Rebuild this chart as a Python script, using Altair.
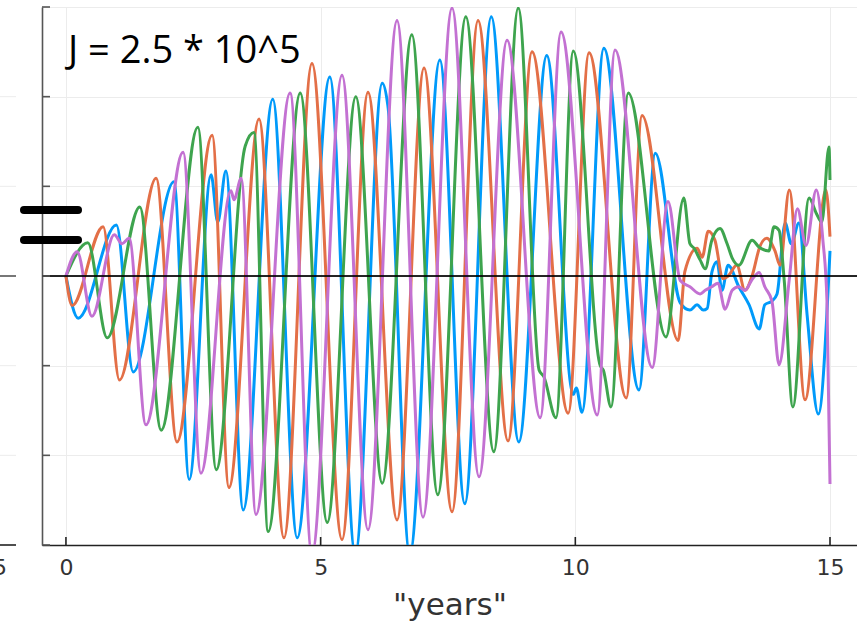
import altair as alt
import pandas as pd

# (year, value) key points, per series
blue = [(0, 0), (0.24, -0.47), (0.99, 0.57), (1.32, -1.07), (2.12, 1.05), (2.42, -2.27),
        (2.85, 1.13), (2.98, 0.6), (3.14, 1.17), (3.48, -2.61), (4.06, 1.97), (4.54, -2.92),
        (5.18, 2.22), (5.68, -3.1), (6.21, 2.15), (6.32, 1.9), (6.75, -3.1), (7.34, 2.41),
        (7.83, -2.54), (8.35, 2.89), (8.89, -1.85), (9.44, 2.46), (9.96, -1.32), (10.02, -1.25),
        (10.13, -1.52), (10.56, 2.54), (11.25, -1.27), (11.57, 1.37), (12.06, -0.3),
        (12.25, -0.38), (12.39, -0.32), (12.51, -0.38), (12.59, -0.36), (12.68, 0.04),
        (12.78, 0.16), (12.88, -0.16), (13.0, 0.12), (13.21, -0.12), (13.41, -0.32),
        (13.61, -0.59), (13.72, -0.32), (13.86, -0.28), (13.96, -0.2), (14.12, 0.59),
        (14.24, 0.36), (14.39, 0.59), (14.55, -0.43), (14.77, -1.54), (15.0, 0.28)]

orange = [(0, 0), (0.12, -0.33), (0.73, 0.55), (1.05, -1.16), (1.77, 1.09), (2.18, -1.85),
          (2.87, 1.57), (3.20, -2.36), (3.79, 1.75), (4.28, -2.92), (4.83, 2.37), (5.42, -2.94),
          (5.93, 2.05), (6.50, -2.72), (7.03, 2.32), (7.58, -2.63), (8.09, 2.85), (8.68, -1.84),
          (9.15, 2.50), (9.86, -1.53), (10.27, 2.49), (11.00, -1.36), (11.31, 1.79),
          (12.02, -0.72), (12.15, 0.05), (12.39, 0.31), (12.49, 0.21), (12.61, 0.50),
          (12.74, 0.40), (12.90, -0.03), (13.00, 0.0), (13.17, 0.12), (13.33, -0.16),
          (13.47, 0.0), (13.63, 0.34), (13.76, 0.42), (13.92, 0.28), (14.02, 0.12),
          (14.20, 0.96), (14.51, -1.38), (14.92, 0.96), (15.0, 0.44)]

green = [(0, 0), (0.43, 0.37), (0.81, -0.69), (1.45, 0.77), (1.87, -1.72), (2.59, 1.66),
         (2.95, -2.16), (3.52, 1.45), (3.69, 1.60), (3.97, -2.85), (4.60, 2.04), (5.13, -2.75),
         (5.69, 2.00), (6.21, -2.31), (6.79, 2.69), (7.30, -2.44), (7.85, 2.89), (8.40, -1.96),
         (8.88, 2.99), (9.29, -1.05), (9.38, -1.12), (9.62, -1.58), (9.96, 2.51), (10.49, -1.0),
         (10.55, -1.05), (10.70, -1.46), (11.04, 2.04), (11.78, -0.68), (12.13, 0.87),
         (12.25, 0.36), (12.33, 0.31), (12.45, 0.18), (12.55, 0.08), (12.68, 0.40),
         (12.84, 0.53), (12.98, 0.36), (13.08, 0.20), (13.21, 0.12), (13.47, 0.40),
         (13.61, 0.32), (13.80, 0.28), (13.90, 0.55), (14.00, 0.51), (14.10, -0.04),
         (14.27, -1.46), (14.59, 0.87), (14.73, 0.70), (14.84, 0.60), (14.98, 1.44), (15.0, 1.07)]

purple = [(0, 0), (0.22, 0.27), (0.51, -0.45), (0.95, 0.46), (1.10, 0.36), (1.24, 0.42),
          (1.57, -1.66), (2.30, 1.38), (2.65, -2.20), (3.24, 0.95), (3.30, 0.85), (3.44, 1.09),
          (3.73, -2.66), (4.40, 2.04), (4.83, -3.10), (5.42, 2.24), (5.93, -2.83), (6.50, 2.85),
          (7.01, -2.69), (7.58, 2.99), (8.11, -2.24), (8.66, 2.63), (9.31, -1.58), (9.72, 2.72),
          (10.43, -1.55), (10.78, 2.52), (11.51, -1.02), (11.82, 0.83), (12.06, -0.05),
          (12.25, -0.12), (12.45, -0.20), (12.55, -0.16), (12.68, -0.12), (12.80, -0.08),
          (12.94, -0.37), (13.08, -0.16), (13.21, -0.12), (13.33, -0.16), (13.47, -0.04),
          (13.61, 0.04), (13.72, -0.12), (13.86, -0.28), (14.00, -0.99), (14.20, -0.04),
          (14.36, 0.75), (14.53, 0.34), (14.73, 0.96), (14.86, 0.40), (14.94, -0.27), (15.0, -2.32)]

series = [("y1", blue, "#009AFA"), ("y2", orange, "#E36F47"),
          ("y3", green, "#3EA44E"), ("y4", purple, "#C371D2")]

x_ticks = [0, 5, 10, 15]
y_ticks = [-3, -2, -1, 0, 1, 2, 3]
annotation = "J = 2.5 * 10^5"
x_title = '"years"'

W, H = 815, 538
xs = alt.Scale(domain=[-0.47, 15.53], nice=False, zero=False)
ys = alt.Scale(domain=[-3, 3], nice=False, zero=False)

x_axis = alt.Axis(
    values=x_ticks, title=x_title, grid=True, gridColor="#ececec", gridWidth=1,
    tickSize=0, labelPadding=12, labelFontSize=22, labelFont="DejaVu Sans",
    labelColor="#333333", titleFont="DejaVu Sans", titleFontSize=31,
    titleFontWeight="normal", titleColor="#333333", titleBaseline="alphabetic",
    titleY=69, domainColor="#222222", domainWidth=1.6)
y_axis = alt.Axis(
    values=y_ticks, title="", labels=False, grid=True, gridColor="#ececec",
    gridWidth=1, tickSize=0, domainColor="#555555", domainWidth=1.6)


def X(field="x"):
    return alt.X(f"{field}:Q", scale=xs, axis=x_axis, title=x_title)


def Y(field="y"):
    return alt.Y(f"{field}:Q", scale=ys, axis=y_axis, title="")


# base axes (grid + labels)
axes = alt.Chart(pd.DataFrame({"x": [0.0], "y": [0.0]})).mark_point(opacity=0).encode(
    x=X(), y=Y())

layers = [axes]
for name, pts, col in series:
    df = pd.DataFrame(pts, columns=["x", "y"])
    df["order"] = range(len(df))
    layers.append(alt.Chart(df).mark_line(color=col, strokeWidth=3, interpolate="monotone",
                                          clip=True, strokeJoin="round").encode(
        x=X(), y=Y(), order="order:Q"))

zero = alt.Chart(pd.DataFrame({"y": [0.0]})).mark_rule(color="#000000", strokeWidth=1.8,
                                                      opacity=0.85).encode(
    y=Y(), x=alt.value(0), x2=alt.value(W))
layers.append(zero)

xt = alt.Chart(pd.DataFrame({"x": x_ticks})).mark_rule(color="#222222", strokeWidth=1.6).encode(
    x=X(), y=alt.value(H), y2=alt.value(H - 8))
yt = alt.Chart(pd.DataFrame({"y": y_ticks})).mark_rule(color="#555555", strokeWidth=1.6).encode(
    y=Y(), x=alt.value(0), x2=alt.value(8))
layers += [xt, yt]

ann = alt.Chart(pd.DataFrame({"t": [annotation]})).mark_text(
    align="left", baseline="alphabetic", font="Open Sans", fontSize=38, color="#000000").encode(
    text="t:N", x=alt.value(26), y=alt.value(56))
layers.append(ann)

# "=" sign drawn beside the panel
for ypix in (203, 233):
    layers.append(alt.Chart(pd.DataFrame({"k": [0]})).mark_rule(
        color="#000000", strokeWidth=8, strokeCap="round").encode(
        x=alt.value(-18), x2=alt.value(36), y=alt.value(ypix)))

# remnants of the neighbouring panel at the left edge
nb_grid = alt.Chart(pd.DataFrame({"y": [-2, -1, 1, 2]})).mark_rule(color="#ececec", strokeWidth=1).encode(
    y=Y(), x=alt.value(-42), x2=alt.value(-26))
nb_zero = alt.Chart(pd.DataFrame({"y": [0.0]})).mark_rule(color="#555555", strokeWidth=1.6).encode(
    y=Y(), x=alt.value(-42), x2=alt.value(-26))
nb_axis = alt.Chart(pd.DataFrame({"y": [-3.0]})).mark_rule(color="#222222", strokeWidth=1.6).encode(
    y=Y(), x=alt.value(-42), x2=alt.value(-26))
nb_lab = alt.Chart(pd.DataFrame({"t": ["5"]})).mark_text(
    align="right", baseline="alphabetic", font="DejaVu Sans", fontSize=22, color="#333333").encode(
    text="t:N", x=alt.value(-35), y=alt.value(H + 30))
layers += [nb_grid, nb_zero, nb_axis, nb_lab]

chart = alt.layer(*layers).properties(
    width=W, height=H,
    padding={"left": 42, "top": 7, "right": 0, "bottom": 78},
    autosize=alt.AutoSizeParams(type="none"),
    background="white",
).configure_view(strokeWidth=0)

chart.save("out.html", embed_options={"renderer": "svg", "actions": False})
